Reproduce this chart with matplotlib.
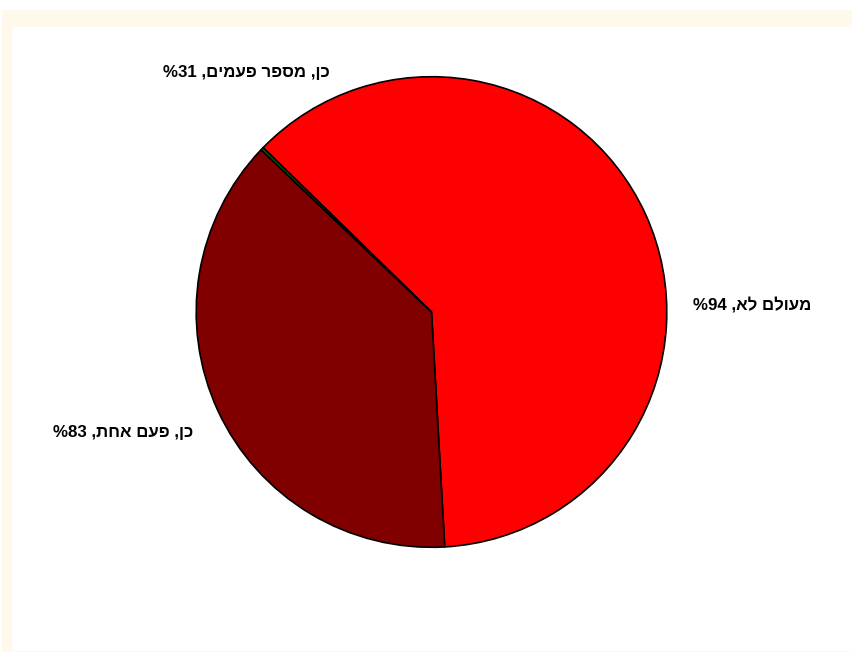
import matplotlib
matplotlib.use("Agg")
import matplotlib.pyplot as plt
from matplotlib.patches import Rectangle

# slice shares (percent) and their labels
categories = ["מעולם לא", "כן, פעם אחת", "כן, מספר פעמים"]
shares = [61.8, 38.0, 0.2]
label_pct = ["49%", "38%", "13%"]
colors = ["#FF0000", "#800000", "#006400"]

W, H = 853, 652
fig = plt.figure(figsize=(W / 100, H / 100), dpi=100)
fig.patch.set_facecolor("white")

# cream frame around the plot area
fig.patches.append(Rectangle((2 / W, 0), 1, 1 - 10 / H, transform=fig.transFigure,
                             facecolor="#FFF9EC", edgecolor="none", zorder=-2))
fig.patches.append(Rectangle((12 / W, 1 / H), 1, 1 - 28 / H, transform=fig.transFigure,
                             facecolor="white", edgecolor="none", zorder=-1))

cx, cy, r = 431.5, 312, 236
ax = fig.add_axes([(cx - r) / W, 1 - (cy + r) / H, 2 * r / W, 2 * r / H])
ax.pie(shares, colors=colors, startangle=135.7, counterclock=False, radius=1,
       wedgeprops=dict(edgecolor="black", linewidth=1.2))
ax.set_xlim(-1.003, 1.003)
ax.set_ylim(-1.003, 1.003)
ax.set_aspect("equal")
ax.axis("off")

# labels written in visual order (no bidi in matplotlib)
def visual(cat, pct):
    return (cat + ", " + pct)[::-1]

font = dict(family=["Liberation Sans", "DejaVu Sans"], fontsize=12.2, fontweight="bold")
fig.text(693 / W, 1 - 305 / H, visual(categories[0], label_pct[0]),
         ha="left", va="center", **font)
fig.text(193 / W, 1 - 432 / H, visual(categories[1], label_pct[1]),
         ha="right", va="center", **font)
fig.text(330 / W, 1 - 72 / H, visual(categories[2], label_pct[2]),
         ha="right", va="center", **font)

fig.savefig("out.png", dpi=100)
